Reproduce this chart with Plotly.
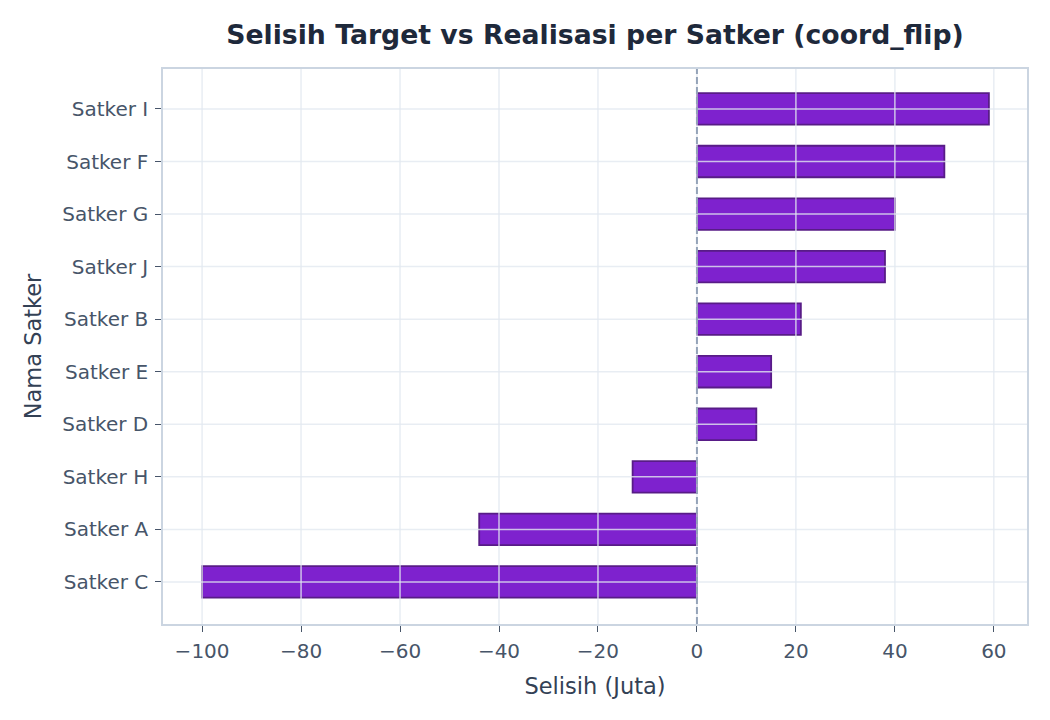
import plotly.graph_objects as go

satker = ["Satker C", "Satker A", "Satker H", "Satker D", "Satker E",
          "Satker B", "Satker J", "Satker G", "Satker F", "Satker I"]
selisih = [-100, -44, -13, 12, 15, 21, 38, 40, 50, 59]
x_ticks = [-100, -80, -60, -40, -20, 0, 20, 40, 60]

FONT = "DejaVu Sans"
GRID = "rgba(226,232,240,0.8)"

fig = go.Figure()
fig.add_trace(go.Bar(
    x=selisih, y=satker, orientation="h", width=0.6,
    marker=dict(color="#7E22CE", line=dict(color="#581C87", width=1.8)),
    showlegend=False,
))

# gridlines drawn above the bars, as in the reference
for xv in x_ticks:
    fig.add_shape(type="line", xref="x", yref="paper", x0=xv, x1=xv, y0=0, y1=1,
                  line=dict(color=GRID, width=1.5), layer="above")
for cat in satker:
    fig.add_shape(type="line", xref="paper", yref="y", x0=0, x1=1, y0=cat, y1=cat,
                  line=dict(color=GRID, width=1.5), layer="above")

fig.add_vline(x=0, line=dict(color="#94A3B8", width=2, dash="7px,3px"), layer="above")

fig.update_layout(
    width=1050, height=720,
    margin=dict(l=163, r=23, t=69, b=96),
    paper_bgcolor="white", plot_bgcolor="white",
    font=dict(family=FONT, color="#475569"),
    title=dict(text="<b>Selisih Target vs Realisasi per Satker (coord_flip)</b>",
               x=595/1050, xanchor="center", y=1 - 35/720, yanchor="middle",
               font=dict(family=FONT, size=26.7, color="#1E293B")),
)
fig.update_xaxes(
    range=[-107.9, 66.7], tickvals=x_ticks, tickfont=dict(size=20, color="#475569"),
    showgrid=False,
    zeroline=False, showline=True, mirror=True, linecolor="#CBD5E1", linewidth=1.5,
    ticks="outside", ticklen=6, tickcolor="#475569", ticklabelstandoff=2,
    title=dict(text="Selisih (Juta)", font=dict(size=22.5, color="#334155"), standoff=16),
    layer="above traces",
)
fig.update_yaxes(
    categoryorder="array", categoryarray=satker, range=[-0.8, 9.76],
    tickfont=dict(size=20, color="#475569"),
    showgrid=False,
    zeroline=False, showline=True, mirror=True, linecolor="#CBD5E1", linewidth=1.5,
    ticks="outside", ticklen=6, tickcolor="#475569", ticklabelstandoff=3,
    title=dict(text="Nama Satker", font=dict(size=22.5, color="#334155"), standoff=14),
    layer="above traces",
)

fig.write_html("out.html")
